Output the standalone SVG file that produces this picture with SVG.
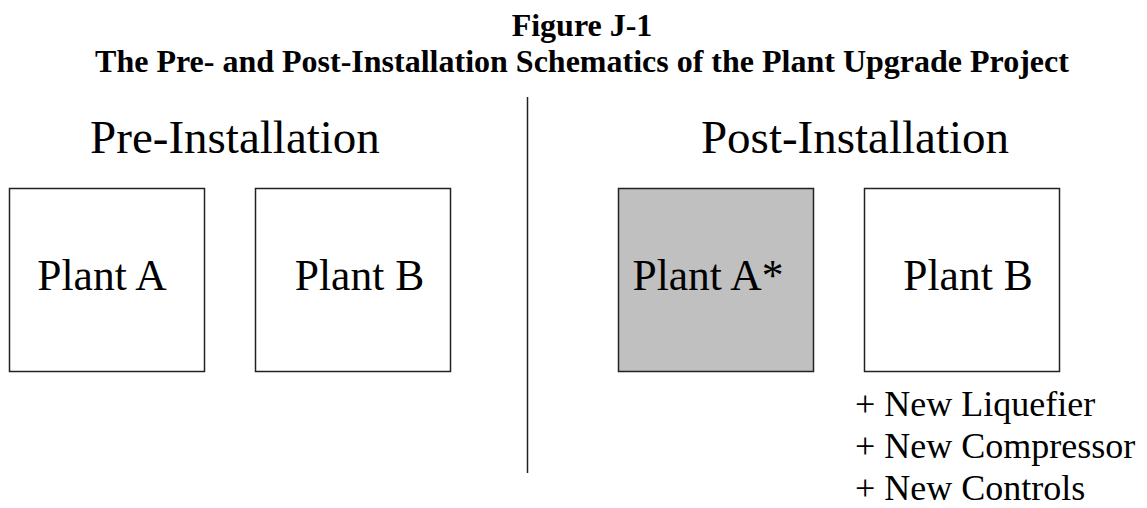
<svg xmlns="http://www.w3.org/2000/svg" width="1147" height="508" viewBox="0 0 1147 508">
  <style>
    .title { font-family: "Liberation Serif", "Times New Roman", serif; font-weight: bold; font-size: 32px; fill: #000; }
    .head { font-family: "Liberation Serif", "Times New Roman", serif; font-size: 47px; fill: #000; }
    .label { font-family: "Liberation Serif", "Times New Roman", serif; font-size: 43.5px; fill: #000; }
    .note { font-family: "Liberation Serif", "Times New Roman", serif; font-size: 36px; fill: #000; }
    .box { stroke: #222; stroke-width: 1.5; }
  </style>
  <rect width="1147" height="508" fill="#fff"/>

  <!-- Figure title -->
  <g id="title">
    <text class="title" x="582" y="36" text-anchor="middle">Figure J-1</text>
    <text class="title" x="582" y="72" text-anchor="middle">The Pre- and Post-Installation Schematics of the Plant Upgrade Project</text>
  </g>

  <!-- Divider between the two states -->
  <g id="connectors">
    <line x1="527.5" y1="97" x2="527.5" y2="473" stroke="#222" stroke-width="1.5"/>
  </g>

  <!-- Pre-installation side -->
  <g id="pre-heading">
    <text class="head" x="235" y="153" text-anchor="middle">Pre-Installation</text>
  </g>
  <g id="pre-plant-a">
    <rect class="box" x="9.5" y="188.5" width="195" height="183" fill="#fff"/>
    <text class="label" x="102" y="290" text-anchor="middle">Plant A</text>
  </g>
  <g id="pre-plant-b">
    <rect class="box" x="255.5" y="188.5" width="195" height="183" fill="#fff"/>
    <text class="label" x="359.5" y="290" text-anchor="middle">Plant B</text>
  </g>

  <!-- Post-installation side -->
  <g id="post-heading">
    <text class="head" x="855" y="153" text-anchor="middle">Post-Installation</text>
  </g>
  <g id="post-plant-a">
    <rect class="box" x="618.5" y="188.5" width="195" height="183" fill="#c0c0c0"/>
    <text class="label" x="708" y="290" text-anchor="middle">Plant A*</text>
  </g>
  <g id="post-plant-b">
    <rect class="box" x="864.5" y="188.5" width="195" height="183" fill="#fff"/>
    <text class="label" x="968" y="290" text-anchor="middle">Plant B</text>
  </g>

  <!-- Additions to Plant B -->
  <g id="additions">
    <text class="note" x="855" y="416">+ New Liquefier</text>
    <text class="note" x="855" y="458">+ New Compressor</text>
    <text class="note" x="855" y="500">+ New Controls</text>
  </g>
</svg>
